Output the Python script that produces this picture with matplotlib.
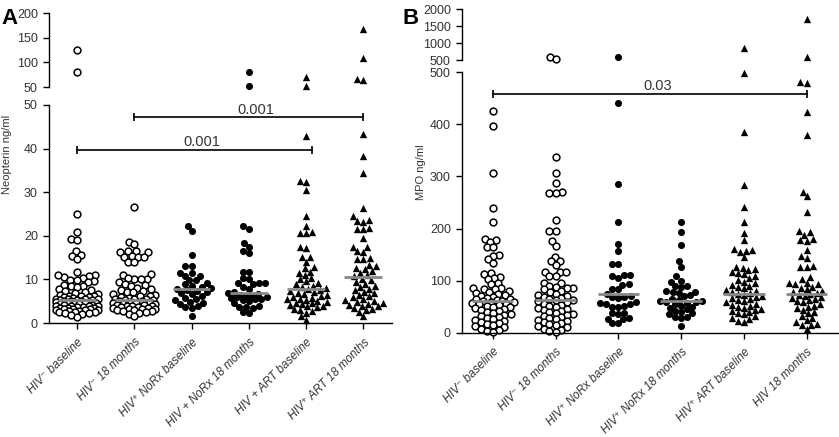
import numpy as np
import matplotlib
matplotlib.use("Agg")
from matplotlib import pyplot as plt

plt.rcParams['font.family'] = ['Liberation Sans', 'DejaVu Sans']

# ---- data ----
labels_a = ["HIV\u207b baseline", "HIV\u207b 18 months", "HIV\u207a NoRx baseline",
            "HIV + NoRx 18 months", "HIV + ART baseline", "HIV\u207a ART 18 months"]
labels_b = ["HIV\u207b baseline", "HIV\u207b 18 months", "HIV\u207a NoRx baseline",
            "HIV\u207a NoRx 18 months", "HIV\u207a ART baseline", "HIV 18 months"]
markers = ['open', 'open', 'dot', 'dot', 'tri', 'tri']

# Neopterin ng/ml
a_neg_base = [126, 80, 25.0, 20.9, 19.2, 19.0, 16.4, 15.6, 15.4, 14.6,
              11.8, 11.0, 10.8, 10.6, 10.9, 10.3, 9.9, 9.8, 9.6, 9.4, 8.8, 8.6, 8.5, 8.3,
              7.8, 7.6, 7.4, 7.2, 6.9, 6.6, 6.4, 6.3, 6.2, 6.1, 6.0, 5.9, 5.7, 5.6, 5.5, 5.5,
              5.4, 5.3, 5.3, 5.2, 5.1, 5.0, 5.0, 4.9, 4.8, 4.7, 4.6, 4.5, 4.5, 4.4, 4.3, 4.2,
              4.1, 4.0, 3.9, 3.9, 3.8, 3.7, 3.6, 3.5, 3.5, 3.4, 3.3, 3.2, 3.1, 3.0, 2.9, 2.9,
              2.8, 2.7, 2.6, 2.6, 2.5, 2.4, 2.3, 2.1, 1.8, 1.4]
a_neg_18 = [26.7, 18.6, 18.1, 16.4, 16.3, 16.5, 16.2, 15.2, 15.3, 15.1, 15.2, 14.1, 14.0,
            11.2, 10.9, 10.2, 10.1, 10.0, 10.3, 9.3, 9.0, 8.7, 8.4, 8.1, 7.7, 7.6, 7.4,
            7.2, 7.0, 6.7, 6.5, 6.3, 6.1, 5.9, 5.8, 5.6, 5.5, 5.4, 5.3, 5.2, 5.1, 5.0,
            4.9, 4.8, 4.7, 4.5, 4.4, 4.3, 4.2, 4.1, 4.0, 3.9, 3.8, 3.7, 3.6, 3.5, 3.4,
            3.3, 3.2, 3.1, 3.0, 2.9, 2.8, 2.7, 2.5, 2.3, 2.1, 1.5]
a_norx_base = [22.3, 21.1, 15.6, 13.1, 13.0, 11.5, 11.4, 10.8, 10.7, 9.9, 9.8, 9.1, 8.9,
               8.5, 8.2, 8.0, 7.8, 7.6, 7.4, 7.0, 6.8, 6.6, 6.2, 5.7, 5.5, 5.2, 4.9, 4.7,
               4.4, 3.9, 3.7, 3.5, 1.5]
a_norx_18 = [80, 52, 22.2, 21.5, 18.3, 17.5, 16.6, 16.0, 11.8, 11.7, 10.3, 10.2, 9.2, 9.1,
             9.0, 9.1, 8.2, 7.9, 7.0, 6.8, 6.6, 6.4, 6.3, 6.1, 6.0, 5.9, 5.8, 5.6, 5.4,
             5.2, 5.0, 4.6, 3.8, 3.7, 3.6, 3.5, 2.5, 2.4]
a_art_base = [70, 52, 43, 32.5, 32.4, 30.5, 24.5, 22.2, 20.8, 20.7, 20.6, 17.4, 17.1, 15.2,
              15.1, 14.1, 12.9, 12.6, 11.8, 11.5, 11.0, 10.4, 10.0, 9.6, 9.2, 8.9, 8.6,
              8.3, 8.0, 7.8, 7.6, 7.3, 7.1, 6.9, 6.6, 6.4, 6.2, 6.0, 5.8, 5.6, 5.5, 5.3,
              5.1, 4.9, 4.7, 4.5, 4.4, 4.2, 4.0, 3.8, 3.6, 3.3, 3.0, 2.7, 2.4, 1.5, 0.8]
a_art_18 = [167, 108, 66, 64, 43.3, 38.3, 34.5, 26.3, 24.5, 23.7, 23.5, 23.2, 21.8, 21.6,
            21.5, 19.4, 17.5, 17.4, 16.4, 16.3, 14.8, 14.7, 14.6, 13.3, 13.0, 12.6, 12.3,
            11.9, 11.5, 11.0, 10.7, 10.2, 9.8, 9.4, 9.0, 8.6, 8.3, 7.9, 7.6, 7.2, 6.9,
            6.5, 6.2, 5.9, 5.6, 5.3, 5.0, 4.8, 4.6, 4.4, 4.2, 4.0, 3.8, 3.5, 3.2, 2.9,
            2.6, 1.6]
medians_a = [5.3, 5.2, 7.7, 6.8, 7.8, 10.6]

# MPO ng/ml
b_neg_base = [426, 396, 306, 239, 212, 180, 178, 175, 165, 164, 149, 148, 141, 133, 115,
              113, 106, 105, 104, 95, 94, 86, 85, 84, 83, 80, 78, 76, 74, 72, 70, 68, 66,
              65, 64, 62, 61, 60, 59, 58, 57, 56, 55, 54, 52, 50, 49, 48, 46, 44, 42, 40,
              38, 36, 34, 32, 30, 28, 26, 24, 22, 20, 18, 16, 14, 12, 10, 8, 6, 4, 2]
b_neg_18 = [590, 530, 338, 306, 288, 271, 269, 268, 217, 196, 195, 177, 167, 145, 138,
            137, 130, 117, 116, 117, 109, 108, 96, 95, 90, 88, 86, 85, 83, 80, 78, 75,
            72, 70, 68, 66, 64, 63, 62, 60, 58, 56, 54, 52, 50, 48, 46, 44, 42, 40, 38,
            36, 34, 32, 30, 28, 26, 24, 22, 20, 18, 16, 14, 12, 10, 8, 6, 4, 2]
b_norx_base = [590, 442, 286, 212, 170, 157, 132, 131, 111, 110, 109, 105, 93, 92, 84,
               83, 74, 70, 69, 68, 67, 58, 57, 56, 55, 51, 50, 49, 38, 37, 36, 28, 27,
               26, 19, 18]
b_norx_18 = [212, 194, 169, 138, 127, 108, 100, 98, 90, 89, 88, 80, 79, 78, 77, 72, 70,
             65, 62, 61, 60, 59, 58, 57, 55, 52, 50, 48, 45, 42, 40, 38, 35, 31, 30, 28, 12]
b_art_base = [870, 498, 385, 284, 242, 213, 192, 178, 160, 158, 157, 155, 146, 126, 124,
              122, 120, 116, 114, 112, 108, 105, 102, 98, 95, 92, 90, 87, 85, 82, 80, 78,
              76, 74, 72, 70, 68, 66, 64, 62, 60, 58, 56, 54, 52, 50, 48, 46, 44, 42, 40,
              38, 35, 32, 29, 26, 23, 21]
b_art_18 = [1724, 590, 481, 480, 423, 380, 271, 262, 231, 195, 194, 188, 179, 178, 177,
            159, 147, 143, 128, 127, 126, 106, 104, 96, 95, 94, 93, 88, 86, 84, 80, 78,
            76, 74, 72, 70, 68, 66, 64, 62, 60, 58, 55, 52, 50, 47, 44, 40, 37, 32, 28,
            24, 20, 16, 15, 14, 7]
medians_b = [61, 63, 74, 61, 74, 75]

groups_a = [a_neg_base, a_neg_18, a_norx_base, a_norx_18, a_art_base, a_art_18]
groups_b = [b_neg_base, b_neg_18, b_norx_base, b_norx_18, b_art_base, b_art_18]
brackets_a = [(0, 4.1, 39.7, "0.001"), (1, 5, 47.2, "0.001")]
brackets_b = [(0, 5, 458, "0.03")]

W, H = 839, 437
fig = plt.figure(figsize=(W / 100, H / 100), dpi=100)


def px_axes(x0, y0, x1, y1):
    return fig.add_axes([x0 / W, 1 - y1 / H, (x1 - x0) / W, (y1 - y0) / H])


def swarm(ax, xc, vals, d=6.2, cap=21.0):
    # simple beeswarm in pixel space, capped width (points overlap past the cap)
    vals = np.asarray(vals, float)
    if len(vals) == 0:
        return vals
    p0 = ax.transData.transform([[0, 0], [1, 0]])
    ppu = p0[1, 0] - p0[0, 0]
    py = ax.transData.transform(np.column_stack([np.full(len(vals), xc), vals]))[:, 1]
    xs = np.zeros(len(vals))
    placed = []
    for i in np.argsort(vals):
        y = py[i]
        near = [(px, qy) for px, qy in placed if abs(qy - y) < d]
        cands = [0.0]
        for px, qy in near:
            w = np.sqrt(d * d - (qy - y) ** 2)
            cands += [px - w, px + w]
        ok = [c for c in cands if abs(c) <= cap and
              all(abs(c - px) >= np.sqrt(d * d - (qy - y) ** 2) - 1e-6 for px, qy in near)]
        if ok:
            best = min(ok, key=abs)
        else:
            grid = np.linspace(-cap, cap, 23)
            best = max(grid, key=lambda c: min(np.hypot(c - px, qy - y) for px, qy in near))
        xs[i] = best
        placed.append((best, y))
    return xc + xs / ppu


def draw_points(ax, i, vals, kind):
    xs = swarm(ax, i, vals)
    if kind == 'open':
        ax.scatter(xs, vals, s=24, facecolor='white', edgecolor='black', linewidth=1.1,
                   clip_on=False, zorder=2)
    elif kind == 'dot':
        ax.scatter(xs, vals, s=26, color='black', linewidth=0, clip_on=False, zorder=2)
    else:
        ax.scatter(xs, vals, s=28, marker='^', color='black', linewidth=0,
                   clip_on=False, zorder=2)


def style_ticks(ax):
    ax.tick_params(axis='both', direction='out', length=4.5, width=1.0,
                   labelsize=9, labelcolor='#333333', color='black')
    for s in ax.spines.values():
        s.set_linewidth(1.0)


def panel(lower_rect, upper_rect, groups, labels, medians, lo_lim, up_lim, up_ticks,
          lo_ticks, brackets):
    lo = px_axes(*lower_rect)
    up = px_axes(*upper_rect)
    for ax in (lo, up):
        ax.set_xlim(-0.49, 5.5)
        ax.spines['top'].set_visible(False)
        ax.spines['right'].set_visible(False)
        style_ticks(ax)
    lo.set_ylim(*lo_lim)
    up.set_ylim(*up_lim)
    lo.set_yticks(lo_ticks)
    up.set_yticks(up_ticks)
    up.spines['bottom'].set_visible(False)
    up.set_xticks([])
    up.patch.set_alpha(0)
    lo.patch.set_alpha(0)
    lo.set_xticks(range(6))
    lo.set_xticklabels(labels, rotation=45, ha='right', rotation_mode='anchor',
                       style='italic', fontsize=8.4, color='#333333')
    lo.tick_params(axis='x', pad=5)
    for i, (vals, kind) in enumerate(zip(groups, markers)):
        vals = np.asarray(vals, float)
        low = vals[vals <= lo_lim[1]]
        high = vals[vals > lo_lim[1]]
        draw_points(lo, i, low, kind)
        draw_points(up, i, high, kind)
        lo.hlines(medians[i], i - 0.33, i + 0.33, color='#888888', lw=2.0, zorder=3)
    for x0, x1, y, txt in brackets:
        lo.plot([x0, x1], [y, y], color='black', lw=1.2, marker='|', ms=6, mew=1.2,
                zorder=4)
        lo.annotate(txt, ((x0 + x1) / 2 + 0.13, y), xytext=(0, 0.5),
                    textcoords='offset points', ha='center', va='bottom',
                    fontsize=10.5, color='#333333')
    return lo, up


panel((49, 105, 392, 323), (49, 13, 392, 87), groups_a, labels_a, medians_a,
      (0, 50), (50, 200), [50, 100, 150, 200], [0, 10, 20, 30, 40, 50], brackets_a)
panel((462, 72.3, 838, 332.7), (462, 9.3, 838, 60.3), groups_b, labels_b, medians_b,
      (0, 500), (500, 2000), [500, 1000, 1500, 2000], [0, 100, 200, 300, 400, 500],
      brackets_b)

fig.text(7 / W, 1 - 154 / H, "Neopterin ng/ml", rotation=90, ha='center', va='center',
         fontsize=8, color='#333333')
fig.text(421 / W, 1 - 172 / H, "MPO ng/ml", rotation=90, ha='center', va='center',
         fontsize=8, color='#333333')
fig.text(1 / W, 1 - 8 / H, "A", fontsize=16, fontweight='bold', ha='left', va='top')
fig.text(402 / W, 1 - 8 / H, "B", fontsize=16, fontweight='bold', ha='left', va='top')

fig.savefig("out.png", dpi=100)
